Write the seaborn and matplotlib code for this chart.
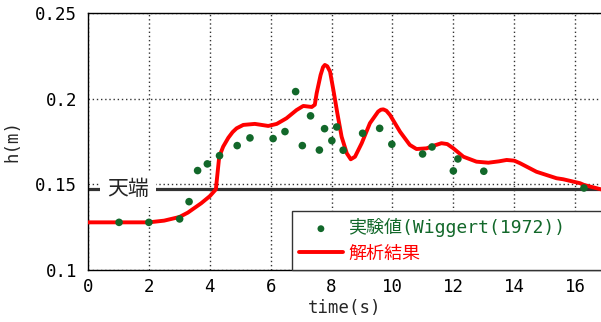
import matplotlib
matplotlib.use("Agg")
import matplotlib.pyplot as plt
import seaborn as sns
import pandas as pd
from matplotlib.font_manager import FontProperties

# ---- data ----
t_obs = [1.02, 2.0, 3.01, 3.32, 3.60, 3.92, 4.32, 4.90, 5.32, 6.08, 6.47, 6.82, 7.04, 7.31,
         7.60, 7.77, 8.01, 8.17, 8.38, 9.02, 9.58, 9.98, 10.99, 11.30, 12.0, 12.15, 13.0, 16.29]
h_obs = [0.1277, 0.1277, 0.1297, 0.1398, 0.158, 0.1619, 0.1667, 0.1726, 0.1771, 0.1767, 0.1808,
         0.2042, 0.1726, 0.19, 0.17, 0.1825, 0.1755, 0.1835, 0.1699, 0.1798, 0.1827, 0.1734,
         0.1677, 0.1718, 0.1578, 0.1648, 0.1576, 0.1478]

t_sim = [0, 2.0, 2.5, 3.0, 3.28, 3.72, 4.0, 4.2, 4.31, 4.44, 4.61, 4.75, 4.88, 5.1, 5.48, 5.92,
         6.2, 6.52, 6.85, 7.07, 7.35, 7.45, 7.51, 7.64, 7.72, 7.78, 7.86, 7.95, 8.06, 8.19, 8.33,
         8.5, 8.63, 8.77, 8.99, 9.26, 9.53, 9.62, 9.7, 9.8, 9.92, 10.25, 10.57, 10.79, 11.12,
         11.4, 11.61, 11.8, 12.0, 12.33, 12.76, 13.15, 13.5, 13.75, 14.0, 14.19, 14.73, 15.39,
         15.61, 16.16, 16.29, 16.85]
h_sim = [0.1277, 0.1277, 0.1287, 0.1308, 0.1334, 0.1389, 0.143, 0.147, 0.1661, 0.172, 0.1772,
         0.1805, 0.1827, 0.1847, 0.1853, 0.1841, 0.1853, 0.1886, 0.1934, 0.1958, 0.1952, 0.1965,
         0.2032, 0.2139, 0.2185, 0.2198, 0.2190, 0.2159, 0.2051, 0.1915, 0.1778, 0.1681, 0.1646,
         0.1661, 0.174, 0.1857, 0.1925, 0.1936, 0.1938, 0.1930, 0.1905, 0.1807, 0.173, 0.1706,
         0.171, 0.1728, 0.174, 0.1735, 0.171, 0.1661, 0.1632, 0.1626, 0.1634, 0.1642, 0.1638,
         0.1623, 0.1573, 0.1535, 0.1529, 0.1506, 0.1496, 0.147]

crest_h = 0.147
crest_label = "天端"
obs_label = "実験値(Wiggert(1972))"
sim_label = "解析結果"
x_ticks = [0, 2, 4, 6, 8, 10, 12, 14, 16]
y_ticks = [0.1, 0.15, 0.2, 0.25]
y_ticklabels = ["0.1", "0.15", "0.2", "0.25"]

df_obs = pd.DataFrame({"t": t_obs, "h": h_obs})
df_sim = pd.DataFrame({"t": t_sim, "h": h_sim})

sns.set_style("white")
plt.rcParams["font.family"] = ["DejaVu Sans Mono", "Noto Sans CJK JP"]

green = "#12682a"
fig = plt.figure(figsize=(6.01, 3.22), dpi=100)
ax = fig.add_axes([88 / 601, (322 - 269.7) / 322, 1 - 88 / 601, (269.7 - 13.3) / 322])

ax.axhline(crest_h, color="#333333", lw=2.3, zorder=2)
sns.lineplot(data=df_sim, x="t", y="h", ax=ax, color="red", lw=2.8, label=sim_label,
             zorder=3, sort=False, estimator=None)
sns.scatterplot(data=df_obs, x="t", y="h", ax=ax, color=green, s=30, edgecolor="none",
                label=obs_label, zorder=4)

ax.text(1.32, crest_h, crest_label, ha="center", va="center", fontsize=15,
        family=["Noto Sans CJK JP", "DejaVu Sans"], zorder=5,
        bbox=dict(facecolor="white", edgecolor="none", pad=5))

ax.set_xlim(0, 16.85)
ax.set_ylim(0.1, 0.25)
ax.set_xticks(x_ticks)
ax.set_yticks(y_ticks)
ax.set_yticklabels(y_ticklabels)
ax.grid(True, color="#333333", lw=1.0, linestyle=(0, (1, 2)))
ax.set_axisbelow(True)
for s in ["left", "bottom", "top"]:
    ax.spines[s].set_color("black")
    ax.spines[s].set_linewidth(1.0)
ax.spines["right"].set_visible(False)
ax.tick_params(axis="both", direction="in", length=3, width=0.8, labelsize=12.5, colors="black")
ax.tick_params(axis="x", pad=6)
ax.tick_params(axis="y", pad=8)
ax.set_xlabel("time(s)", fontsize=12.5, labelpad=2)
ax.set_ylabel("h(m)", fontsize=12.5, labelpad=10)

handles, labels = ax.get_legend_handles_labels()
order = [labels.index(obs_label), labels.index(sim_label)]
prop = FontProperties(family=["DejaVu Sans Mono", "Noto Sans CJK JP"], size=13)
leg = ax.legend([handles[i] for i in order], [labels[i] for i in order],
                loc="lower left", bbox_to_anchor=(0.3977, 0.0, 0.7, 0.233), mode="expand",
                borderaxespad=0, prop=prop, fancybox=False, framealpha=1,
                edgecolor="#333333", borderpad=0.4, labelspacing=0.39,
                handlelength=2.4, handletextpad=0.3, labelcolor=[green, "red"],
                markerscale=0.9)
leg.get_frame().set_linewidth(1.0)
leg.set_zorder(10)

fig.savefig("out.png", dpi=100)
